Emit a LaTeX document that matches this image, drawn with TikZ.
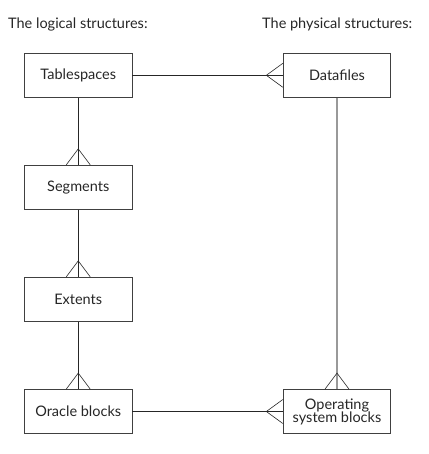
\documentclass[tikz,border=0pt]{standalone}
\usepackage{fontspec}
\setmainfont{Lato}
\begin{document}
\begin{tikzpicture}[x=1pt,y=-1pt,
  ent/.style={draw=black!75,line width=0.8pt,minimum width=107.5pt,minimum height=44pt,inner sep=0pt,font=\fontsize{14.5}{15}\selectfont,align=center,text=black!85},
  conn/.style={draw=black!85,line width=0.8pt},
  gconn/.style={draw=black!40,line width=1.2pt},
  foot/.style={draw=black!85,line width=0.6pt},
  lbl/.style={anchor=west,inner sep=0pt,font=\fontsize{14.5}{15}\selectfont,text=black!85}]
\useasboundingbox (0,0) rectangle (428,454);
\node[lbl] (tl) at (8,24) {The logical structures:};
\node[lbl] (tp) at (262,24) {The physical structures:};
\node[ent] (ts) at (78.25,75.3) {Tablespaces};
\node[ent] (df) at (337,75.3) {Datafiles};
\node[ent] (sg) at (78.25,187.3) {Segments};
\node[ent] (ex) at (78.25,299.3) {Extents};
\node[ent] (ob) at (78.25,411.5) {Oracle blocks};
\node[ent] (os) at (337,411.5) {Operating\\[-2pt]system blocks};
% connectors
\draw[conn] (ts.east) -- (df.west);
\draw[conn] (ob.east) -- (os.west);
\draw[conn] (ts.south) -- (sg.north);
\draw[conn] (sg.south) -- (ex.north);
\draw[conn] (ex.south) -- (ob.north);
\draw[gconn] (df.south) -- (os.north);
% crow's feet
\foreach \n in {sg,ex,ob,os}{
  \draw[foot] ([xshift=-12pt]\n.north) -- ([yshift=16pt]\n.north) -- ([xshift=12pt]\n.north);
}
\foreach \n in {df,os}{
  \draw[foot] ([yshift=-12pt]\n.west) -- ([xshift=-16.5pt]\n.west) -- ([yshift=12pt]\n.west);
}
\end{tikzpicture}
\end{document}
